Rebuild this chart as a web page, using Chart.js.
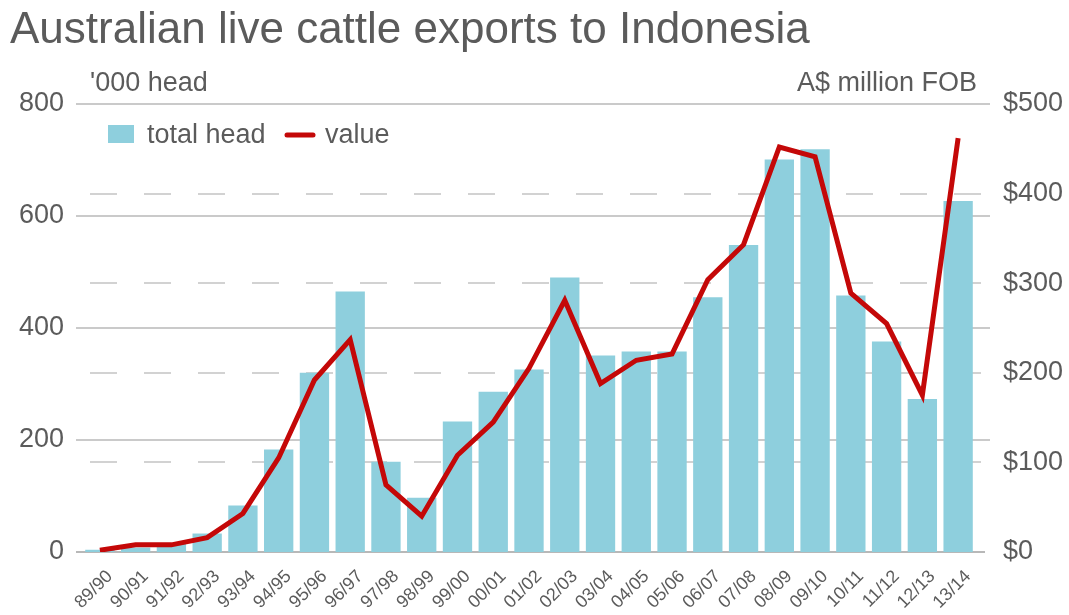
<!DOCTYPE html>
<html>
<head>
<meta charset="utf-8">
<title>Australian live cattle exports to Indonesia</title>
<script src="https://cdn.jsdelivr.net/npm/chart.js@4.4.1/dist/chart.umd.min.js"></script>
<style>
  html, body { margin: 0; padding: 0; background: #fff; }
  #wrap { position: relative; width: 1069px; height: 615px; }
</style>
</head>
<body>
<div id="wrap"><canvas id="cattle" width="1069" height="615"></canvas></div>
<script>
// financial years
const seasons = ['89/90', '90/91', '91/92', '92/93', '93/94', '94/95', '95/96', '96/97', '97/98', '98/99',
  '99/00', '00/01', '01/02', '02/03', '03/04', '04/05', '05/06', '06/07', '07/08', '08/09',
  '09/10', '10/11', '11/12', '12/13', '13/14'];
// '000 head shipped
const totalHead = [4, 8, 15, 33, 83, 183, 320, 465, 161, 97, 233, 286, 326, 490, 351, 358, 358, 455, 548, 701,
  719, 458, 376, 273, 627];
// A$ million FOB
const valueAUD = [2, 8, 8, 16, 43, 105, 192, 237, 75, 40, 108, 145, 205, 281, 188, 214, 221, 304, 343, 452,
  441, 289, 255, 175, 462];

const headTicks = [0, 200, 400, 600, 800];
const valueTicks = [0, 100, 200, 300, 400, 500];

const textGrey = '#5b5b5b';
const fontFamily = '"Liberation Sans", Arial, Helvetica, sans-serif';

// gridlines: solid for the head axis, dashed for the value axis, a bit wider than the bars
const gridLines = {
  id: 'gridLines',
  beforeDatasetsDraw(chart) {
    const { ctx, chartArea } = chart;
    const y = chart.scales.y, y1 = chart.scales.y1;
    ctx.save();
    ctx.lineWidth = 2;
    y1.ticks.forEach(t => {
      if (t.value === 0) return;
      const py = Math.round(y1.getPixelForValue(t.value));
      ctx.strokeStyle = '#d2d2d2';
      ctx.setLineDash([27, 27]);
      ctx.beginPath();
      ctx.moveTo(chartArea.left + 8, py);
      ctx.lineTo(chartArea.right + 14, py);
      ctx.stroke();
    });
    ctx.setLineDash([]);
    y.ticks.forEach(t => {
      const py = Math.round(y.getPixelForValue(t.value));
      ctx.strokeStyle = t.value === 0 ? '#b8b8b8' : '#cacaca';
      ctx.beginPath();
      ctx.moveTo(chartArea.left - 6, py);
      ctx.lineTo(chartArea.right + (t.value === 0 ? 9 : 14), py);
      ctx.stroke();
    });
    ctx.restore();
  }
};

// title, unit captions and the in-plot legend
const captions = {
  id: 'captions',
  afterDraw(chart) {
    const { ctx, chartArea } = chart;
    ctx.save();
    ctx.fillStyle = textGrey;
    ctx.textBaseline = 'alphabetic';
    ctx.font = '44px ' + fontFamily;
    ctx.textAlign = 'left';
    ctx.fillText('Australian live cattle exports to Indonesia', 10, 43);

    ctx.font = '27px ' + fontFamily;
    ctx.fillText("'000 head", 90, 91);
    ctx.textAlign = 'right';
    ctx.fillText('A$ million FOB', chartArea.right + 1, 91);

    const bars = chart.data.datasets[1], line = chart.data.datasets[0];
    ctx.textAlign = 'left';
    ctx.fillStyle = bars.backgroundColor;
    ctx.fillRect(108, 125, 26, 18);
    ctx.fillStyle = textGrey;
    ctx.fillText(bars.label, 147, 143);
    ctx.strokeStyle = line.borderColor;
    ctx.lineWidth = 5;
    ctx.lineCap = 'round';
    ctx.beginPath();
    ctx.moveTo(287, 135);
    ctx.lineTo(313, 135);
    ctx.stroke();
    ctx.fillText(line.label, 325, 143);
    ctx.restore();
  }
};

new Chart(document.getElementById('cattle'), {
  type: 'bar',
  data: {
    labels: seasons,
    datasets: [
      {
        type: 'line',
        label: 'value',
        data: valueAUD,
        yAxisID: 'y1',
        borderColor: '#c40808',
        borderWidth: 5,
        pointRadius: 0,
        tension: 0,
        order: 0
      },
      {
        label: 'total head',
        data: totalHead,
        yAxisID: 'y',
        backgroundColor: '#8ecfdd',
        barPercentage: 0.82,
        categoryPercentage: 1,
        order: 1
      }
    ]
  },
  options: {
    responsive: false,
    animation: false,
    layout: { padding: { top: 104, left: 0, right: 0, bottom: 0 } },
    plugins: {
      legend: { display: false },
      tooltip: { enabled: false }
    },
    scales: {
      x: {
        offset: true,
        grid: { display: false, drawTicks: false },
        border: { display: false },
        ticks: {
          minRotation: 45,
          maxRotation: 45,
          padding: 14,
          labelOffset: 10,
          color: textGrey,
          font: { family: fontFamily, size: 18 }
        },
        afterFit(s) { s.height = 63; }
      },
      y: {
        position: 'left',
        min: 0,
        max: 800,
        afterBuildTicks(s) { s.ticks = headTicks.map(v => ({ value: v })); },
        grid: { display: false, drawTicks: false },
        border: { display: false },
        ticks: {
          padding: 18,
          color: textGrey,
          font: { family: fontFamily, size: 27 }
        },
        afterFit(s) { s.width = 82; }
      },
      y1: {
        position: 'right',
        min: 0,
        max: 500,
        afterBuildTicks(s) { s.ticks = valueTicks.map(v => ({ value: v })); },
        grid: { display: false, drawTicks: false },
        border: { display: false },
        ticks: {
          padding: 27,
          color: textGrey,
          font: { family: fontFamily, size: 27 },
          callback: v => '$' + v
        },
        afterFit(s) { s.width = 93; }
      }
    }
  },
  plugins: [gridLines, captions]
});
</script>
</body>
</html>
